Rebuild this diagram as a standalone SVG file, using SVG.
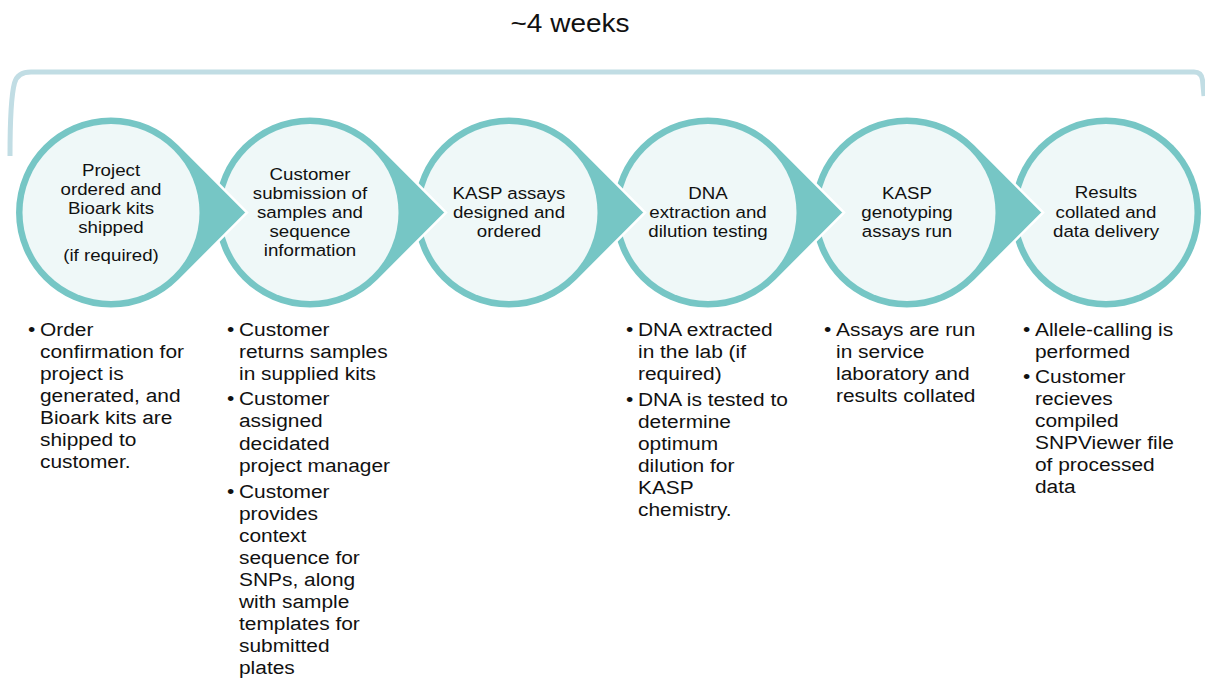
<svg xmlns="http://www.w3.org/2000/svg" xmlns:xlink="http://www.w3.org/1999/xlink" width="1205" height="678" viewBox="0 0 1205 678">
<style>
  .drop { fill: #76C6C5; stroke: #FFFFFF; stroke-width: 2.5; stroke-linejoin: miter; }
  .ring { fill: #76C6C5; }
  .inner { fill: #EFF8F8; }
  .t { font-family: "Liberation Sans", Arial, sans-serif; fill: #111111; }
  .ct { font-size: 17px; text-anchor: middle; }
  .bt { font-size: 19px; }
  .title { font-size: 25px; text-anchor: middle; }
  .bracket { fill: none; stroke: #C1DDE4; stroke-width: 5; stroke-linecap: butt; }
</style>
<defs>
  <path id="drop" d="M68.02,-68.02 L136.05,0 L68.02,68.02 A96.2,96.2 0 1 1 68.02,-68.02 Z"/>
</defs>
<rect width="1205" height="678" fill="#FFFFFF"/>

<g id="title" transform="translate(570,0) scale(1.12,1)">
  <text class="t title" x="0" y="32">~4 weeks</text>
</g>

<g id="bracket">
  <path class="bracket" d="M10,156 C10,122 11.5,94 14.5,83 Q17.5,72 31,72 L1194,72 Q1201.5,72 1202.5,80 L1204,96"/>
</g>

<g id="node6">
  <circle class="ring" cx="1106" cy="212.5" r="95"/>
  <circle class="inner" cx="1106" cy="212.5" r="88.5"/>
  <g transform="translate(1106,0) scale(1.1,1)">
    <text class="t ct"><tspan x="0" y="198">Results</tspan><tspan x="0" y="218">collated and</tspan><tspan x="0" y="237">data delivery</tspan></text>
  </g>
  <g transform="translate(1035,0) scale(1.1,1)">
    <text class="t bt" x="-10.9" y="336">•</text>
    <text class="t bt" x="-10.9" y="383">•</text>
    <text class="t bt"><tspan x="0" y="336">Allele-calling is</tspan><tspan x="0" y="358">performed</tspan><tspan x="0" y="383">Customer</tspan><tspan x="0" y="405">recieves</tspan><tspan x="0" y="427">compiled</tspan><tspan x="0" y="449">SNPViewer file</tspan><tspan x="0" y="471">of processed</tspan><tspan x="0" y="493">data</tspan></text>
  </g>
</g>

<g id="node5">
  <use href="#drop" xlink:href="#drop" class="drop" x="907" y="212.5"/>
  <circle class="inner" cx="907" cy="212.5" r="88.5"/>
  <g transform="translate(907,0) scale(1.1,1)">
    <text class="t ct"><tspan x="0" y="199">KASP</tspan><tspan x="0" y="218">genotyping</tspan><tspan x="0" y="237">assays run</tspan></text>
  </g>
  <g transform="translate(836,0) scale(1.1,1)">
    <text class="t bt" x="-10.9" y="336">•</text>
    <text class="t bt"><tspan x="0" y="336">Assays are run</tspan><tspan x="0" y="358">in service</tspan><tspan x="0" y="380">laboratory and</tspan><tspan x="0" y="402">results collated</tspan></text>
  </g>
</g>

<g id="node4">
  <use href="#drop" xlink:href="#drop" class="drop" x="708" y="212.5"/>
  <circle class="inner" cx="708" cy="212.5" r="88.5"/>
  <g transform="translate(708,0) scale(1.1,1)">
    <text class="t ct"><tspan x="0" y="199">DNA</tspan><tspan x="0" y="218">extraction and</tspan><tspan x="0" y="237">dilution testing</tspan></text>
  </g>
  <g transform="translate(638,0) scale(1.1,1)">
    <text class="t bt" x="-10.9" y="336">•</text>
    <text class="t bt" x="-10.9" y="406">•</text>
    <text class="t bt"><tspan x="0" y="336">DNA extracted</tspan><tspan x="0" y="358">in the lab (if</tspan><tspan x="0" y="380">required)</tspan><tspan x="0" y="406">DNA is tested to</tspan><tspan x="0" y="428">determine</tspan><tspan x="0" y="450">optimum</tspan><tspan x="0" y="472">dilution for</tspan><tspan x="0" y="494">KASP</tspan><tspan x="0" y="516">chemistry.</tspan></text>
  </g>
</g>

<g id="node3">
  <use href="#drop" xlink:href="#drop" class="drop" x="509" y="212.5"/>
  <circle class="inner" cx="509" cy="212.5" r="88.5"/>
  <g transform="translate(509,0) scale(1.1,1)">
    <text class="t ct"><tspan x="0" y="199">KASP assays</tspan><tspan x="0" y="218">designed and</tspan><tspan x="0" y="237">ordered</tspan></text>
  </g>
</g>

<g id="node2">
  <use href="#drop" xlink:href="#drop" class="drop" x="310" y="212.5"/>
  <circle class="inner" cx="310" cy="212.5" r="88.5"/>
  <g transform="translate(310,0) scale(1.1,1)">
    <text class="t ct"><tspan x="0" y="180">Customer</tspan><tspan x="0" y="199">submission of</tspan><tspan x="0" y="218">samples and</tspan><tspan x="0" y="237">sequence</tspan><tspan x="0" y="256">information</tspan></text>
  </g>
  <g transform="translate(239,0) scale(1.1,1)">
    <text class="t bt" x="-10.9" y="336">•</text>
    <text class="t bt" x="-10.9" y="405">•</text>
    <text class="t bt" x="-10.9" y="498">•</text>
    <text class="t bt"><tspan x="0" y="336">Customer</tspan><tspan x="0" y="358">returns samples</tspan><tspan x="0" y="380">in supplied kits</tspan><tspan x="0" y="405">Customer</tspan><tspan x="0" y="427">assigned</tspan><tspan x="0" y="450">decidated</tspan><tspan x="0" y="472">project manager</tspan><tspan x="0" y="498">Customer</tspan><tspan x="0" y="520">provides</tspan><tspan x="0" y="542">context</tspan><tspan x="0" y="564">sequence for</tspan><tspan x="0" y="586">SNPs, along</tspan><tspan x="0" y="608">with sample</tspan><tspan x="0" y="630">templates for</tspan><tspan x="0" y="652">submitted</tspan><tspan x="0" y="674">plates</tspan></text>
  </g>
</g>

<g id="node1">
  <use href="#drop" xlink:href="#drop" class="drop" x="111" y="212.5"/>
  <circle class="inner" cx="111" cy="212.5" r="88.5"/>
  <g transform="translate(111,0) scale(1.1,1)">
    <text class="t ct"><tspan x="0" y="176">Project</tspan><tspan x="0" y="195">ordered and</tspan><tspan x="0" y="214">Bioark kits</tspan><tspan x="0" y="233">shipped</tspan><tspan x="0" y="261">(if required)</tspan></text>
  </g>
  <g transform="translate(40,0) scale(1.1,1)">
    <text class="t bt" x="-10.9" y="336">•</text>
    <text class="t bt"><tspan x="0" y="336">Order</tspan><tspan x="0" y="358">confirmation for</tspan><tspan x="0" y="380">project is</tspan><tspan x="0" y="402">generated, and</tspan><tspan x="0" y="424">Bioark kits are</tspan><tspan x="0" y="446">shipped to</tspan><tspan x="0" y="468">customer.</tspan></text>
  </g>
</g>
</svg>
